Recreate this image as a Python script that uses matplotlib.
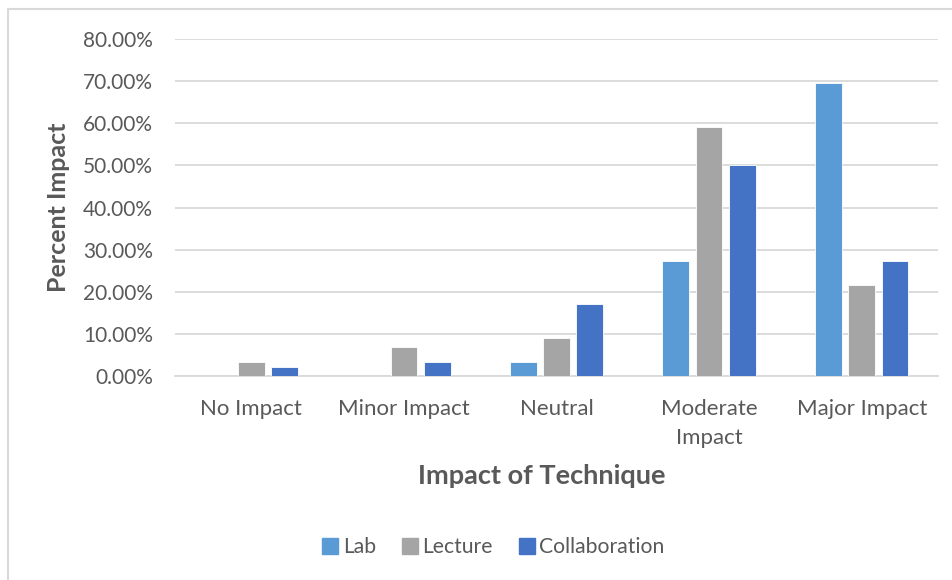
import matplotlib
matplotlib.use("Agg")
import matplotlib.pyplot as plt
import numpy as np
from matplotlib.lines import Line2D

plt.rcParams['font.family'] = ['Lato', 'DejaVu Sans']

categories = ["No Impact", "Minor Impact", "Neutral", "Moderate\nImpact", "Major Impact"]
series_names = ["Lab", "Lecture", "Collaboration"]
lab = [0.0, 0.0, 3.33, 27.27, 69.44]
lecture = [3.33, 6.78, 9.05, 59.09, 21.52]
collaboration = [2.22, 3.33, 17.07, 50.0, 27.27]
y_ticks = [0, 10, 20, 30, 40, 50, 60, 70, 80]
colors = ["#5B9BD5", "#A5A5A5", "#4472C4"]

W, H = 953, 580
fig = plt.figure(figsize=(W / 100, H / 100), dpi=100)
ax = fig.add_axes([175 / W, 1 - 376 / H, (938 - 175) / W, (376 - 39) / H])

x = np.arange(len(categories))
width = 0.175
offs = [-0.218, 0.0, 0.218]
for vals, off, c, name in zip([lab, lecture, collaboration], offs, colors, series_names):
    ax.bar(x + off, vals, width, color=c, edgecolor="white", linewidth=0.6, label=name, zorder=3)

ax.set_xlim(-0.5, len(categories) - 0.5)
ax.set_ylim(0, 80)
ax.set_yticks(y_ticks)
ax.set_yticklabels([f"{v:.2f}%" for v in y_ticks])
ax.set_xticks(x)
ax.set_xticklabels(categories, linespacing=1.58)
ax.grid(axis="y", color="#D9D9D9", linewidth=1.3, zorder=0)
for s in ["top", "right", "left"]:
    ax.spines[s].set_visible(False)
ax.spines["bottom"].set_color("#D9D9D9")
ax.spines["bottom"].set_linewidth(1.3)
ax.tick_params(axis="both", length=0, colors="#595959")
ax.tick_params(axis="y", pad=16, labelsize=15)
ax.tick_params(axis="x", pad=16.5, labelsize=16)

ax.set_ylabel("Percent Impact", fontsize=18, fontweight="bold", color="#595959")
ax.yaxis.set_label_coords(-(175 - 70) / (938 - 175), 0.5)
fig.text(542 / W, 1 - 476 / H, "Impact of Technique", fontsize=19.5, fontweight="bold",
         color="#595959", ha="center", va="center")

handles = [Line2D([], [], marker="s", linestyle="none", markersize=11, markerfacecolor=c,
                  markeredgecolor=c) for c in colors]
leg = fig.legend(handles, series_names, loc="center", bbox_to_anchor=(492 / W, 1 - 547 / H),
                 ncol=3, frameon=False, fontsize=15.2, handletextpad=0.1, columnspacing=1.1,
                 handlelength=1.0)
for t in leg.get_texts():
    t.set_color("#595959")

# chart border (top and left visible)
fig.add_artist(Line2D([8 / W, 8 / W, 1.0], [0.0, 1 - 9 / H, 1 - 9 / H], transform=fig.transFigure,
                      color="#D9D9D9", linewidth=1.5))

fig.savefig("out.png", dpi=100)
